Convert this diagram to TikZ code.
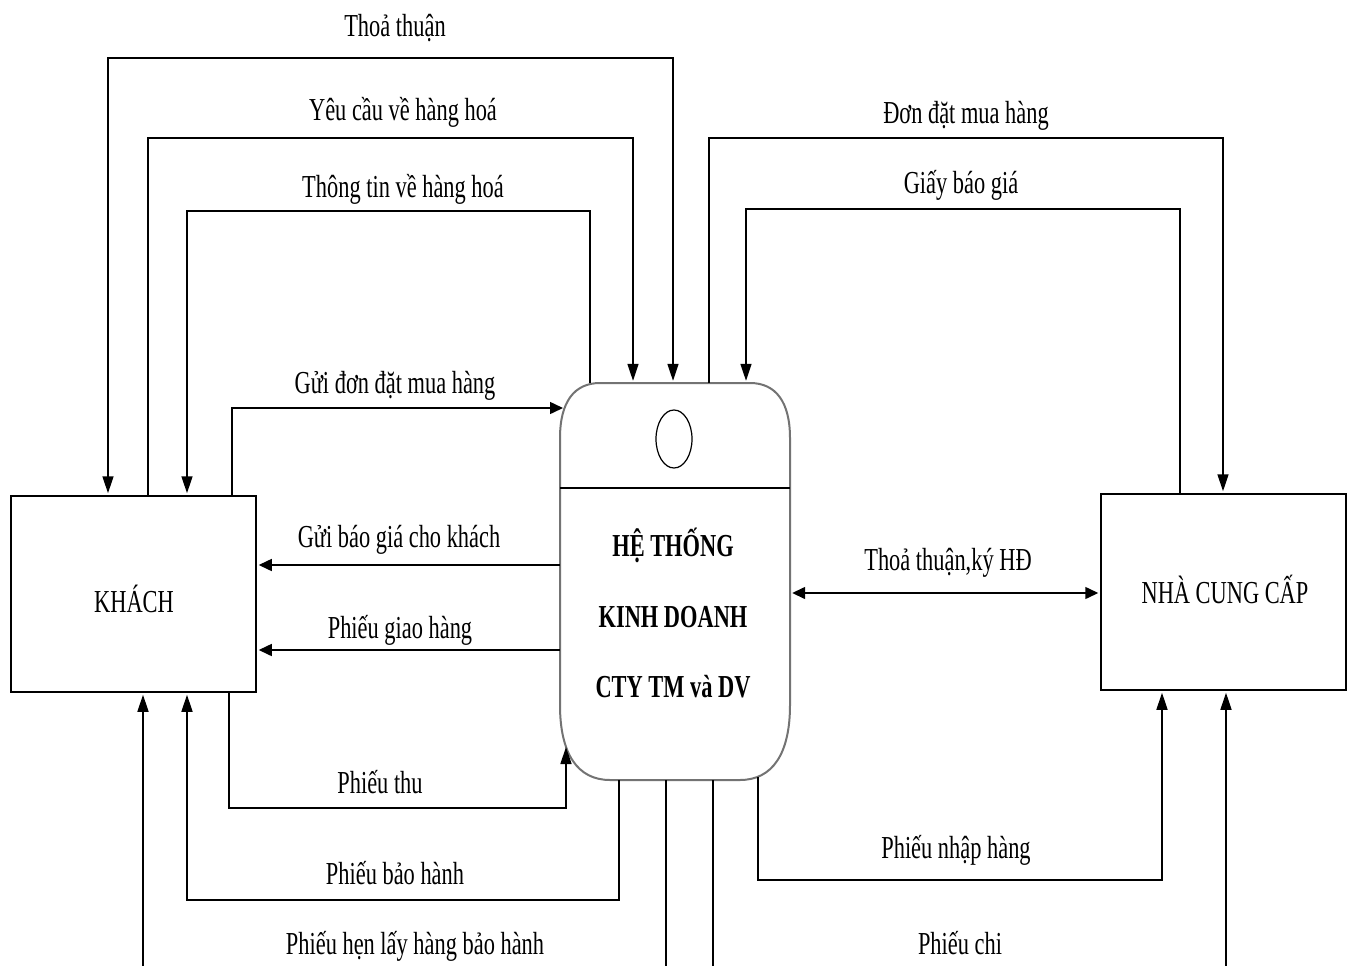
\documentclass[tikz,border=0pt]{standalone}
\usepackage{fontspec}
\usepackage{graphicx}
\setmainfont{Liberation Serif}
\usetikzlibrary{arrows.meta,shapes.geometric}
% condensed lettering used throughout the diagram
\newcommand{\nrw}[1]{\scalebox{0.7}[1]{#1}}
\begin{document}
\begin{tikzpicture}[x=1pt,y=-1pt,
  vhead/.tip={Triangle[length=17pt,width=11pt]},
  hhead/.tip={Triangle[length=13pt,width=12pt]},
  vflow/.style={line width=1.5pt, -vhead, shorten >=2pt},
  hflow/.style={line width=1.5pt, -hhead, shorten >=2pt},
  vtwoway/.style={line width=1.5pt, vhead-vhead, shorten >=2pt, shorten <=2pt},
  htwoway/.style={line width=1.5pt, hhead-hhead, shorten >=2pt, shorten <=2pt},
  lbl/.style={font=\fontsize{32}{36}\selectfont, inner sep=0pt, anchor=base},
  entity/.style={draw, line width=1.5pt, minimum width=245pt, minimum height=196pt, inner sep=0pt},
  sysline/.style={draw=black!55, line width=2pt}
]
\useasboundingbox (0,0) rectangle (1355,966);
\clip (0,0) rectangle (1355,966);

% external entities
\node[entity] (khach) at (133.5,594) {};
\node[entity] (ncc) at (1223.5,592) {};
\node[lbl] (khachtxt) at (134,612) {\nrw{KHÁCH}};
\node[lbl] (ncctxt) at (1225,603) {\nrw{NHÀ CUNG CẤP}};

% the business system process
\node[minimum width=230pt, minimum height=397pt, inner sep=0pt] (sys) at (675,581.5) {};
\draw[sysline] (560,438) -- (560,705)
  .. controls (560,753.75) and (577.5,780) .. (610,780) -- (740,780)
  .. controls (772.5,780) and (790,753.75) .. (790,705) -- (790,438)
  .. controls (790,402.25) and (776,383) .. (750,383) -- (600,383)
  .. controls (574,383) and (560,402.25) .. (560,438) -- cycle;
\draw[line width=1.5pt] (sys.west |- 0,488) -- (sys.east |- 0,488);
\node[draw, ellipse, line width=1.2pt, minimum width=36pt, minimum height=58pt, inner sep=0pt] (proc) at (674,439) {};
\node[lbl, font=\fontsize{32}{36}\selectfont\bfseries] (sys1) at (673,556) {\nrw{HỆ THỐNG}};
\node[lbl, font=\fontsize{32}{36}\selectfont\bfseries] (sys2) at (673,627) {\nrw{KINH DOANH}};
\node[lbl, font=\fontsize{32}{36}\selectfont\bfseries] (sys3) at (673,697) {\nrw{CTY TM và DV}};

% points where connectors meet the curved corners
\coordinate (sysin1) at (565,408);
\coordinate (sysin2) at (566,747);
\coordinate (sysout1) at (758,777);

% customer side
\draw[vtwoway] (673,0 |- sys.north) -- (673,58) -- (108,58) -- (108,0 |- khach.north);
\draw[vflow] (148,0 |- khach.north) -- (148,138) -- (633,138) -- (633,0 |- sys.north);
\draw[vflow] (590,0 |- sys.north) -- (590,211) -- (187,211) -- (187,0 |- khach.north);
\draw[hflow] (232,0 |- khach.north) -- (232,408) -- (sysin1);
\draw[hflow] (sys.west |- 0,565) -- (khach.east |- 0,565);
\draw[hflow] (sys.west |- 0,650) -- (khach.east |- 0,650);
\draw[vflow, shorten >=0pt] (229,0 |- khach.south) -- (229,808) -- (566,808) -- (sysin2);
\draw[vflow] (619,0 |- sys.south) -- (619,900) -- (187,900) -- (187,0 |- khach.south);
\draw[vflow] (666,0 |- sys.south) -- (666,1000) -- (143,1000) -- (143,0 |- khach.south);

% supplier side
\draw[vflow] (709,0 |- sys.north) -- (709,138) -- (1223,138) -- (1223,0 |- ncc.north);
\draw[vflow] (1180,0 |- ncc.north) -- (1180,209) -- (746,209) -- (746,0 |- sys.north);
\draw[htwoway] (sys.east |- 0,593) -- (ncc.west |- 0,593);
\draw[vflow] (sysout1) -- (758,880) -- (1162,880) -- (1162,0 |- ncc.south);
\draw[vflow] (713,0 |- sys.south) -- (713,1000) -- (1226,1000) -- (1226,0 |- ncc.south);

% flow labels
\node[lbl] (l1) at (395,37) {\nrw{Thoả thuận}};
\node[lbl] (l2) at (403,120) {\nrw{Yêu cầu về hàng hoá}};
\node[lbl] (l3) at (403,197) {\nrw{Thông tin về hàng hoá}};
\node[lbl] (l4) at (395,393) {\nrw{Gửi đơn đặt mua hàng}};
\node[lbl] (l5) at (399,547) {\nrw{Gửi báo giá cho khách}};
\node[lbl] (l6) at (400,638) {\nrw{Phiếu giao hàng}};
\node[lbl] (l7) at (380,793) {\nrw{Phiếu thu}};
\node[lbl] (l8) at (395,884) {\nrw{Phiếu bảo hành}};
\node[lbl] (l9) at (415,954) {\nrw{Phiếu hẹn lấy hàng bảo hành}};
\node[lbl] (l10) at (966,123) {\nrw{Đơn đặt mua hàng}};
\node[lbl] (l11) at (961,193) {\nrw{Giấy báo giá}};
\node[lbl] (l12) at (948,570) {\nrw{Thoả thuận,ký HĐ}};
\node[lbl] (l13) at (956,858) {\nrw{Phiếu nhập hàng}};
\node[lbl] (l14) at (960,954) {\nrw{Phiếu chi}};
\end{tikzpicture}
\end{document}
